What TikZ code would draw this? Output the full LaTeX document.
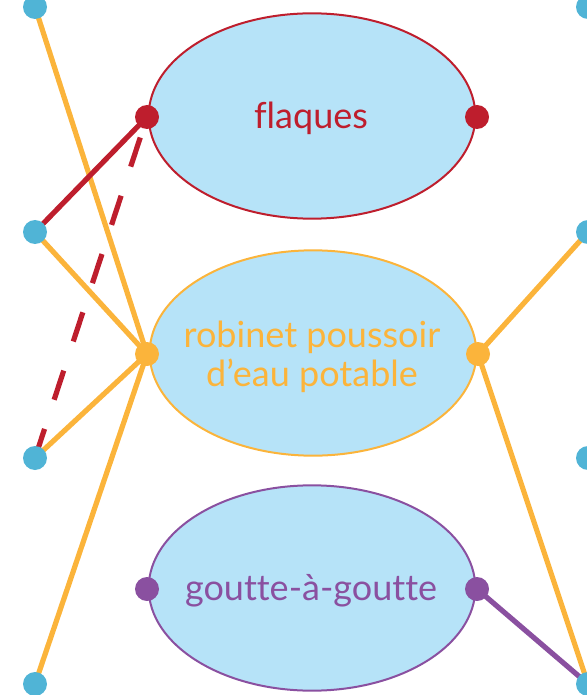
\documentclass[tikz,border=0pt]{standalone}
\usepackage{fontspec}
\setmainfont{Lato}[Ligatures=NoCommon]
\usetikzlibrary{shapes.geometric,backgrounds}
\definecolor{cblue}{HTML}{50B4D6}
\definecolor{cfill}{HTML}{B6E3F8}
\definecolor{cred}{HTML}{BE1E2D}
\definecolor{corange}{HTML}{FBB43B}
\definecolor{cpurple}{HTML}{8A50A0}
\begin{document}
\begin{tikzpicture}[x=0.75pt,y=-0.75pt,
  bubble/.style={ellipse,fill=cfill,line width=1.5pt,minimum width=245pt,minimum height=154pt,inner sep=0pt},
  label/.style={align=center,inner sep=0pt,font=\fontsize{27}{29.5}\selectfont},
  dot/.style={circle,inner sep=0pt,minimum size=18pt},
  conn/.style={line width=3.9pt}]
\useasboundingbox (0,0) rectangle (586,695);
\node[bubble,draw=cred] (flaques) at (312,116) {};
\node[bubble,draw=corange] (robinet) at (313,353) {};
\node[bubble,draw=cpurple] (goutte) at (312,588) {};
\node[label,text=cred] (tf) at (311,118) {flaques};
\node[label,text=corange] (tr) at (312,357) {robinet poussoir\\d’eau potable};
\node[label,text=cpurple] (tg) at (311,591) {goutte-à-goutte};
\node[dot,fill=cred] (fL) at (147,117) {};
\node[dot,fill=cred] (fR) at (477,117) {};
\node[dot,fill=corange] (rL) at (147,354) {};
\node[dot,fill=corange] (rR) at (478,354) {};
\node[dot,fill=cpurple] (gL) at (147,589) {};
\node[dot,fill=cpurple] (gR) at (477,589) {};
\node[dot,fill=cblue] (L1) at (35,7) {};
\node[dot,fill=cblue] (L2) at (35,232) {};
\node[dot,fill=cblue] (L3) at (35,458) {};
\node[dot,fill=cblue] (L4) at (35,684) {};
\node[dot,fill=cblue] (R1) at (588,7) {};
\node[dot,fill=cblue] (R2) at (588,232) {};
\node[dot,fill=cblue] (R3) at (588,458) {};
\node[dot,fill=cblue] (R4) at (588,684) {};
\begin{scope}[on background layer]
\draw[conn,corange] (L1.center) -- (rL.center);
\draw[conn,corange] (L2.center) -- (rL.center);
\draw[conn,corange] (L3.center) -- (rL.center);
\draw[conn,corange] (L4.center) -- (rL.center);
\draw[conn,cred] (L2.center) -- (fL.center);
\draw[conn,cred,dash pattern=on 23pt off 23pt] (L3.center) -- (fL.center);
\draw[conn,corange] (rR.center) -- (R2.center);
\draw[conn,corange] (rR.center) -- (R4.center);
\draw[conn,cpurple] (gR.center) -- (R4.center);
\end{scope}
\end{tikzpicture}
\end{document}
